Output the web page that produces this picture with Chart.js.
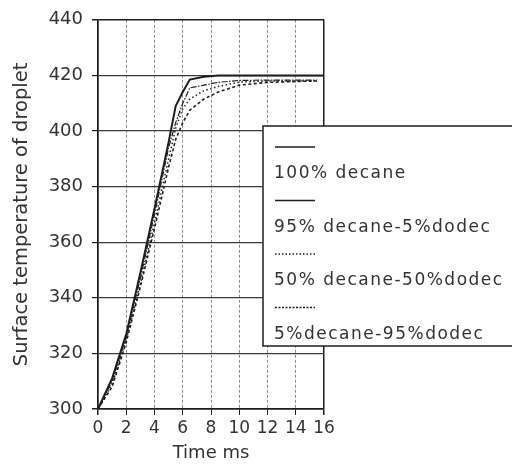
<!DOCTYPE html>
<html>
<head>
<meta charset="utf-8">
<script src="https://cdn.jsdelivr.net/npm/chart.js@4/dist/chart.umd.min.js"></script>
<style>
  html, body { margin: 0; padding: 0; background: #fff; }
  #wrap { width: 512px; height: 466px; }
</style>
</head>
<body>
<div id="wrap"><canvas id="tempChart" width="512" height="466"></canvas></div>
<script>
// time (ms) shared by all curves
const times = [0, 1, 2, 3, 4, 5, 5.5, 6, 6.5, 7.5, 8.5, 10, 12, 14, 15.5, 16];

// surface temperature of droplet
const decane100 = [300, 311, 327, 349, 372, 396, 409, 414, 418.5, 419.5, 420, 420, 420, 420, 420, 420];
const decane95 = [300, 310, 326, 347, 370, 394, 403, 410, 415.5, 416.5, 417.5, 418.2, 418.3, 418.3, 418.3, null];
const decane50 = [300, 309, 325, 345, 367, 390, 401, 408, 411.5, 414.5, 416, 417.6, 418, 418, 418, null];
const decane5 = [300, 308, 324, 344, 365, 387, 397, 403, 407.5, 411.5, 414, 416.5, 417.5, 417.8, 418, null];

const seriesLabels = ['100% decane', '95% decane-5%dodec', '50% decane-50%dodec', '5%decane-95%dodec'];

const xTicks = [0, 2, 4, 6, 8, 10, 12, 14, 16];
const yTicks = [300, 320, 340, 360, 380, 400, 420, 440];

const ink = '#1e1e1e';

function toPoints(values) {
    return times.map((t, i) => ({ x: t, y: values[i] }));
}

// legend drawn as the boxed list in the reference (sample line above each label)
const boxLegend = {
    id: 'boxLegend',
    afterDraw(chart) {
        const ctx = chart.ctx;
        ctx.save();
        ctx.fillStyle = '#fff';
        ctx.fillRect(263, 126, 270, 220);
        ctx.strokeStyle = ink;
        ctx.lineWidth = 1.5;
        ctx.strokeRect(263, 126, 270, 220);

        chart.data.datasets.forEach((ds, i) => {
            const y = 147 + i * 53.5;
            ctx.beginPath();
            ctx.setLineDash(ds.legendDash || []);
            ctx.lineWidth = ds.legendWidth || 1.4;
            ctx.strokeStyle = ink;
            ctx.moveTo(275, y);
            ctx.lineTo(315, y);
            ctx.stroke();
            ctx.setLineDash([]);

            ctx.fillStyle = '#333';
            ctx.font = '17px "DejaVu Sans"';
            ctx.letterSpacing = '1.5px';
            ctx.textBaseline = 'middle';
            ctx.textAlign = 'left';
            ctx.fillText(ds.label, 274, y + 27);
        });
        ctx.restore();
    }
};

Chart.defaults.font.family = '"DejaVu Sans", sans-serif';
Chart.defaults.color = '#333';

const ctx = document.getElementById('tempChart').getContext('2d');
const tempChart = new Chart(ctx, {
    type: 'line',
    data: {
        datasets: [
            {
                label: seriesLabels[0],
                data: toPoints(decane100),
                borderColor: ink,
                borderWidth: 2,
                legendWidth: 1.6
            },
            {
                label: seriesLabels[1],
                data: toPoints(decane95),
                borderColor: ink,
                borderWidth: 1.2,
                borderDash: [6, 1.5, 1.5, 1.5],
                legendWidth: 1.4
            },
            {
                label: seriesLabels[2],
                data: toPoints(decane50),
                borderColor: ink,
                borderWidth: 1.5,
                borderDash: [1.5, 2.5],
                legendDash: [1.5, 2],
                legendWidth: 1.4
            },
            {
                label: seriesLabels[3],
                data: toPoints(decane5),
                borderColor: ink,
                borderWidth: 1.6,
                borderDash: [3, 2.5],
                legendDash: [2, 1.5],
                legendWidth: 1.4
            }
        ]
    },
    options: {
        responsive: false,
        animation: false,
        spanGaps: false,
        layout: { padding: { left: 0, top: 14, right: 188, bottom: 0 } },
        elements: {
            point: { radius: 0 },
            line: { tension: 0, fill: false }
        },
        plugins: {
            legend: { display: false },
            tooltip: { enabled: false }
        },
        scales: {
            x: {
                type: 'linear',
                min: 0,
                max: 16,
                afterBuildTicks: (scale) => { scale.ticks = xTicks.map(v => ({ value: v })); },
                afterFit: (scale) => { scale.height = 57; },
                ticks: {
                    font: { size: 17 },
                    padding: 3,
                    maxRotation: 0,
                    autoSkip: false
                },
                grid: {
                    color: (c) => (c.tick && (c.tick.value === 0 || c.tick.value === 16)) ? ink : '#8a8a8a',
                    lineWidth: (c) => (c.tick && (c.tick.value === 0 || c.tick.value === 16)) ? 1.5 : 1,
                    tickLength: 6,
                    tickColor: ink
                },
                border: {
                    color: ink,
                    width: 1.5,
                    dash: (c) => (c.tick && c.tick.value !== 0 && c.tick.value !== 16) ? [3, 2] : []
                },
                title: {
                    display: true,
                    text: 'Time ms',
                    font: { size: 18 },
                    padding: { top: 0, bottom: 2 }
                }
            },
            y: {
                type: 'linear',
                min: 300,
                max: 440,
                afterBuildTicks: (scale) => { scale.ticks = yTicks.map(v => ({ value: v })); },
                afterFit: (scale) => { scale.width = 98; },
                ticks: {
                    font: { size: 18 },
                    padding: 9
                },
                grid: {
                    color: (c) => (c.tick && (c.tick.value === 300 || c.tick.value === 440)) ? ink : '#3a3a3a',
                    lineWidth: (c) => (c.tick && (c.tick.value === 300 || c.tick.value === 440)) ? 1.5 : 1.2,
                    tickLength: 6,
                    tickColor: ink
                },
                border: {
                    color: ink,
                    width: 1.5
                },
                title: {
                    display: true,
                    text: 'Surface temperature of droplet',
                    font: { size: 19.5 },
                    padding: { top: 10, bottom: 0 }
                }
            }
        }
    },
    plugins: [boxLegend]
});
</script>
</body>
</html>
